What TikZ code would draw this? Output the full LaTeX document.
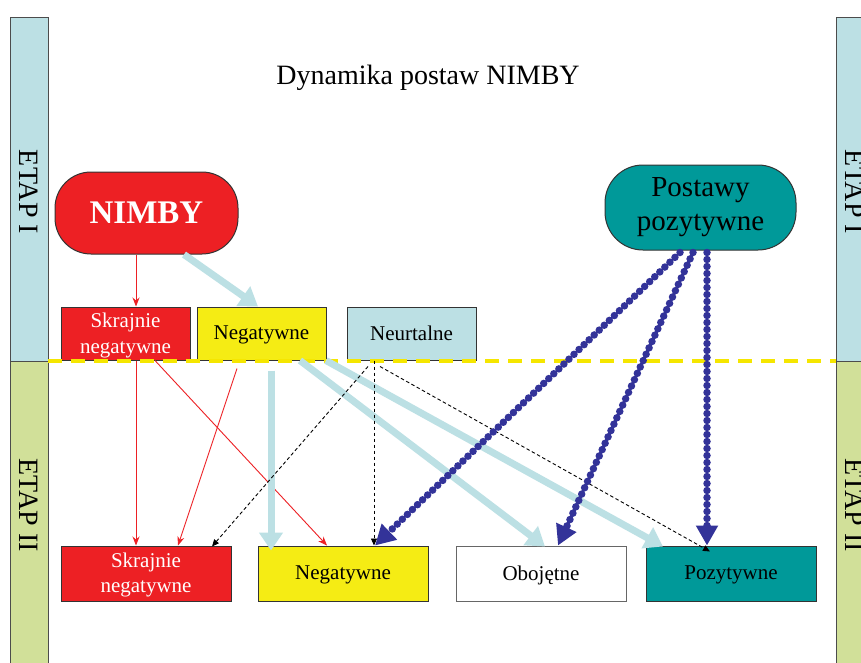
\documentclass[tikz,border=0pt]{standalone}
\usepackage{fontspec}
\setmainfont{Liberation Serif}
\usetikzlibrary{arrows.meta}
\definecolor{nred}{RGB}{237,32,36}
\definecolor{nyellow}{RGB}{245,236,20}
\definecolor{nlblue}{RGB}{188,224,228}
\definecolor{ngreen}{RGB}{209,224,153}
\definecolor{nteal}{RGB}{0,153,153}
\definecolor{ndblue}{RGB}{51,51,153}
\definecolor{ndash}{RGB}{245,230,0}

\begin{document}
\begin{tikzpicture}
[x=1pt,y=-1pt,
 band/.style={draw=black!70,line width=0.8pt},
 bandtext/.style={rotate=-90,font=\fontsize{28}{30}\selectfont},
 box/.style={rectangle,draw=black!80,line width=1pt,inner sep=0pt,minimum width=129pt,minimum height=53pt,align=center,text depth=1pt,font=\fontsize{21}{26}\selectfont},
 bigbox/.style={box,minimum width=170pt,minimum height=55pt,font=\fontsize{21}{25}\selectfont},
 pill/.style={rectangle,draw=black!80,line width=1pt,inner sep=0pt,align=center},
 redarr/.style={draw=nred,line width=0.9pt,-{Stealth[length=9pt,width=7pt]}},
 blackarr/.style={draw=black,line width=0.9pt,dash pattern=on 3.5pt off 2.5pt,-{Triangle[length=7pt,width=6pt]}},
 bluearr/.style={draw=nlblue,line width=7pt,-{Triangle[length=18pt,width=23pt]}},
 dotarr/.style={draw=ndblue,line width=7.5pt,line cap=round,dash pattern=on 0pt off 7pt,-{Triangle[length=20pt,width=21pt]}}]
\useasboundingbox (0,0) rectangle (861,662);
\clip (0,0) rectangle (861,662);

\fill[white] (0,0) rectangle (861,662);
\draw[band,fill=nlblue] (10,17) rectangle (48,361);
\draw[band,fill=ngreen] (10,361) rectangle (48,670);
\draw[band,fill=nlblue] (836,17) rectangle (880,361);
\draw[band,fill=ngreen] (836,361) rectangle (880,670);
\node[bandtext] (e1) at (29,192) {ETAP I};
\node[bandtext] (e2) at (29,505) {ETAP II};
\node[bandtext] (e3) at (855,192) {ETAP I};
\node[bandtext] (e4) at (855,505) {ETAP II};

\node[font=\fontsize{28}{30}\selectfont] (title) at (428,78) {Dynamika postaw NIMBY};

\node[pill,fill=nred,rounded corners=36pt,minimum width=183pt,minimum height=82pt,text=white,font=\fontsize{33}{36}\selectfont\bfseries] (nimby) at (146.5,213) {NIMBY};
\node[pill,fill=nteal,rounded corners=38pt,minimum width=191pt,minimum height=85pt,font=\fontsize{29}{34}\selectfont] (poz) at (700.5,207.5) {Postawy\\pozytywne};

\node[box,fill=nred,text=white] (s1) at (125.5,333.5) {Skrajnie\\negatywne};
\node[box,fill=nyellow] (n1) at (261.5,333.5) {Negatywne};
\node[box,fill=nlblue] (t1) at (411.5,333.5) {Neurtalne};

\node[bigbox,fill=nred,text=white] (s2) at (146,573.5) {Skrajnie\\negatywne};
\node[bigbox,fill=nyellow] (n2) at (343,573.5) {Negatywne};
\node[bigbox,fill=white,draw=black!60] (o2) at (541,573.5) {Obojętne};
\node[bigbox,fill=nteal] (p2) at (731,573.5) {Pozytywne};

\draw[ndash,line width=3.5pt,dash pattern=on 14pt off 9pt] (48,361) -- (836,361);

\draw[redarr] ([xshift=-10.5pt]nimby.south) -- ([xshift=10.5pt]s1.north);
\draw[bluearr] ([xshift=37.5pt]nimby.south) -- ([xshift=-3.5pt]n1.north);

\draw[redarr] ([xshift=10.5pt]s1.south) -- ([xshift=-10pt]s2.north);
\draw[redarr] ([xshift=29.5pt]s1.south) -- ([xshift=-16pt]n2.north);
\draw[redarr] ([xshift=-24.5pt,yshift=-8pt]n1.south) -- ([xshift=32pt]s2.north);

\draw[bluearr] ([xshift=9.5pt,yshift=-10pt]n1.south) -- ([xshift=-72pt,yshift=-5pt]n2.north);
\draw[bluearr] ([xshift=38.5pt]n1.south) -- ([xshift=4pt,yshift=-1pt]o2.north);
\draw[bluearr] ([xshift=64.5pt]n1.south) -- ([xshift=-68pt,yshift=-1pt]p2.north);

\draw[blackarr] ([xshift=-43.5pt,yshift=-6pt]t1.south) -- ([xshift=66pt,yshift=-1pt]s2.north);
\draw[blackarr] ([xshift=-37.5pt]t1.south) -- ([xshift=31pt]n2.north);
\draw[blackarr] ([xshift=-31.5pt,yshift=-6pt]t1.south) -- ([xshift=-21pt,yshift=-6pt]p2.north);

\draw[dotarr] ([xshift=-20.5pt,yshift=-2pt]poz.south) -- ([xshift=32pt]n2.north);
\draw[dotarr] ([xshift=-7.5pt,yshift=-2pt]poz.south) -- ([xshift=17pt]o2.north);
\draw[dotarr] ([xshift=6.5pt,yshift=-2pt]poz.south) -- ([xshift=-24pt]p2.north);
\end{tikzpicture}
\end{document}
